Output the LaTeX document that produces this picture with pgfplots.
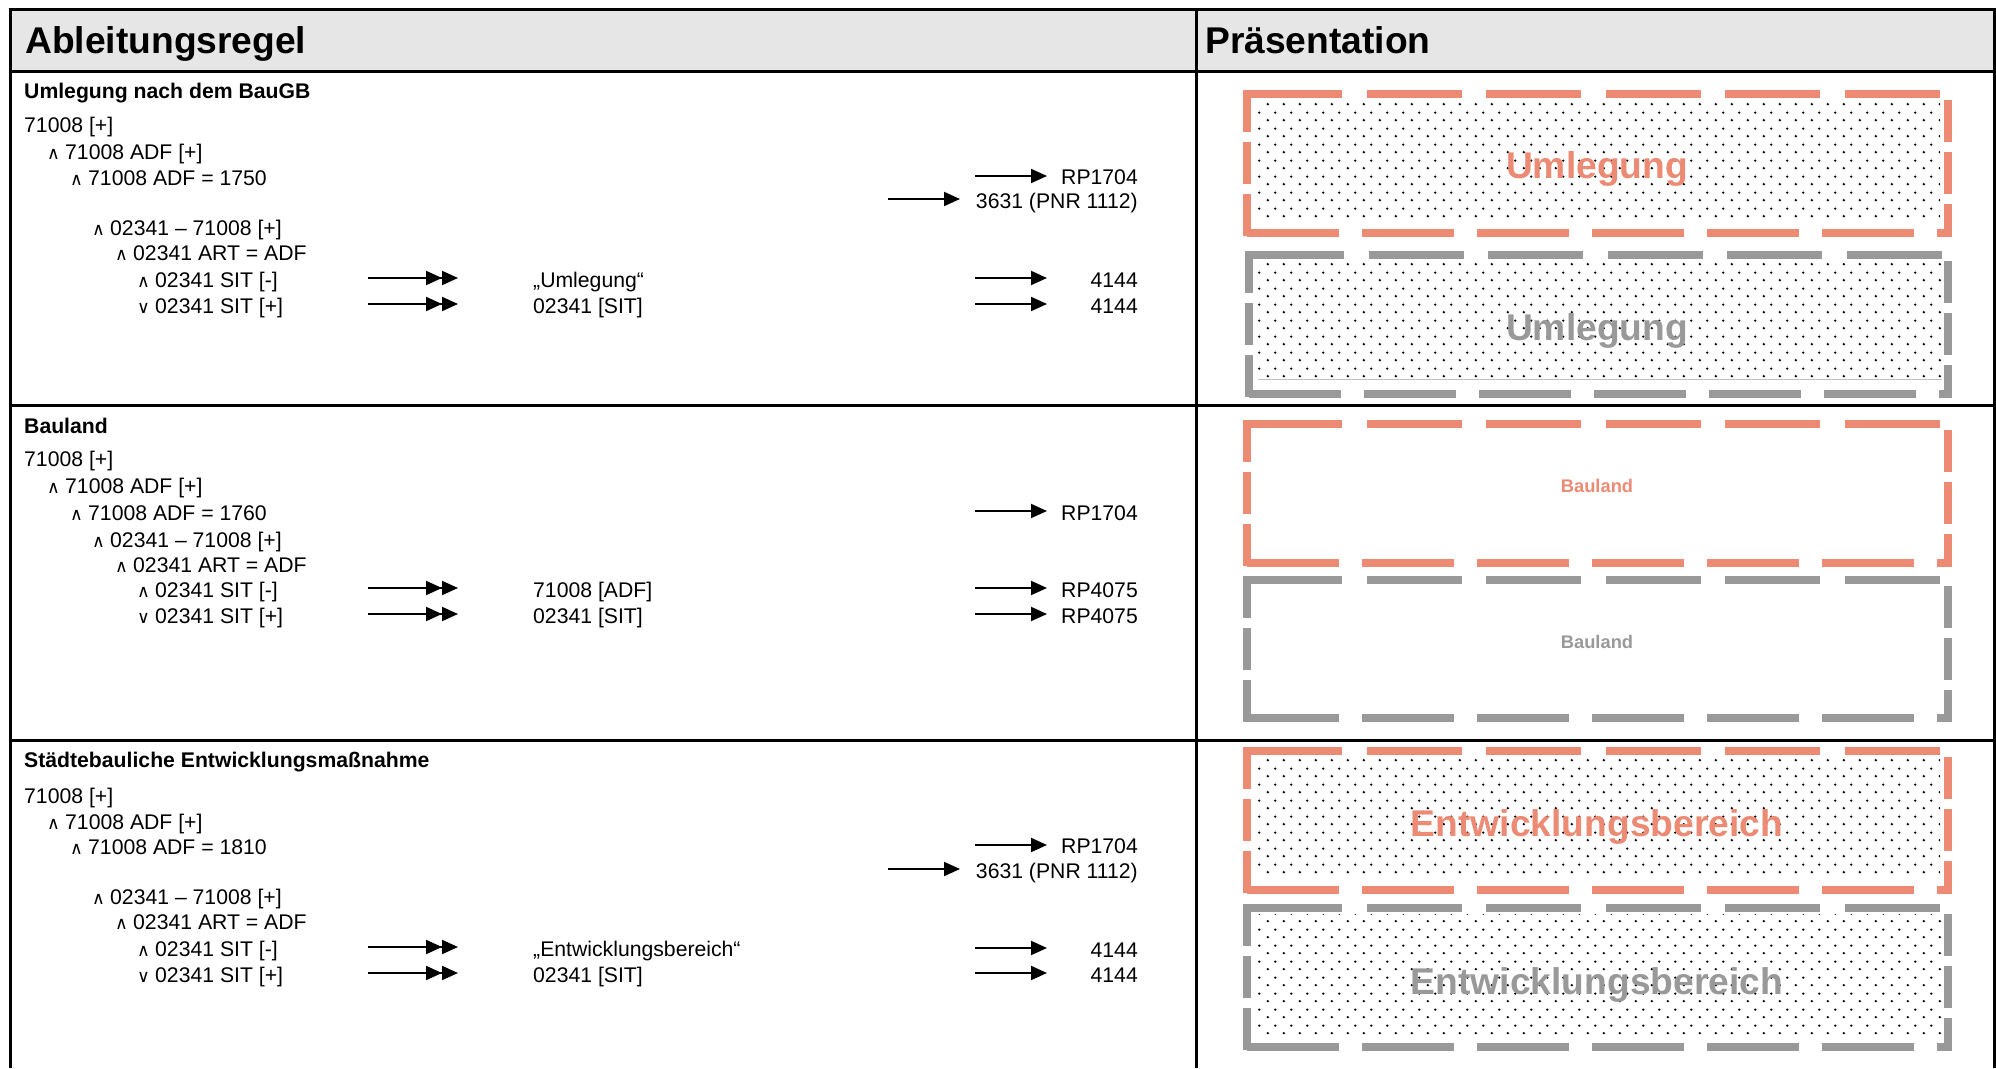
\documentclass[border=0pt]{standalone}
\usepackage{fontspec}
\setmainfont{Liberation Sans}
\newfontfamily\dv{DejaVu Sans}
\usepackage{pgfplots}
\pgfplotsset{compat=1.18}
\usetikzlibrary{arrows.meta,patterns}
\definecolor{org}{RGB}{236,138,116}
\definecolor{gry}{RGB}{153,153,153}
\definecolor{hdr}{RGB}{230,230,230}
\pgfdeclarepatternformonly{mydots}{\pgfpointorigin}{\pgfpoint{16pt}{16pt}}{\pgfpoint{16pt}{16pt}}{%
  \pgfpathcircle{\pgfpoint{4pt}{4pt}}{1.35pt}%
  \pgfpathcircle{\pgfpoint{12pt}{12pt}}{1.35pt}%
  \pgfusepath{fill}}
\newcommand{\body}{\fontsize{21.2pt}{25pt}\selectfont}
\newcommand{\bigf}{\fontsize{37.2pt}{40pt}\selectfont\bfseries}
\newcommand{\T}[3]{\node[anchor=base west,font=\body,inner sep=0pt] at (axis cs:#1,#2) {#3};}
\newcommand{\B}[3]{\node[anchor=base west,font=\body\bfseries,inner sep=0pt] at (axis cs:#1,#2) {#3};}
\newcommand{\W}[4]{\node[anchor=base west,font=\body,inner sep=0pt] at (axis cs:#1,#2) {\makebox[18pt][l]{\dv\fontsize{17.5pt}{17.5pt}\selectfont #3}#4};}
\newcommand{\R}[3]{\node[anchor=base east,font=\body,inner sep=0pt] at (axis cs:#1,#2) {#3};}
\newcommand{\SA}[3]{\addplot[black,line width=2pt,-{Triangle[length=16pt,width=14pt]}] coordinates {(#1,#3) (#2,#3)};}
\newcommand{\DA}[1]{\addplot[black,line width=2pt,-{Triangle[length=16pt,width=14pt]Triangle[length=16pt,width=14pt]}] coordinates {(368,#1) (458,#1)};}
% dashed box: color x1 y1 x2 y2
\newcommand{\DB}[5]{%
  \addplot[#1,line width=8pt,dash pattern=on 95pt off 24.5pt] coordinates {(#2,#3) (#4,#3)};
  \addplot[#1,line width=8pt,dash pattern=on 92pt off 23pt] coordinates {(#2,#5) (#4,#5)};
  \addplot[#1,line width=8pt,dash pattern=on 42pt off 10pt,shorten <=-4pt,shorten >=-4pt] coordinates {(#2,#3) (#2,#5)};
  \addplot[#1,line width=8pt,dash pattern=on 42pt off 10pt,dash phase=42pt,shorten <=-4pt,shorten >=-4pt] coordinates {(#4,#3) (#4,#5)};
}
\newcommand{\DOTS}[4]{\addplot[draw=none,pattern=mydots,pattern color=black] coordinates {(#1,#2) (#3,#2) (#3,#4) (#1,#4) (#1,#2)};}
\begin{document}
\begin{tikzpicture}
\begin{axis}[name=ax,width=1996pt,height=1068pt,scale only axis,
  xmin=0,xmax=1996,ymin=0,ymax=1068,y dir=reverse,hide axis,clip=false]
% header fill
\addplot[draw=none,fill=hdr] coordinates {(10,9) (1994,9) (1994,71) (10,71) (10,9)};
% table lines
\addplot[black,line width=3pt] coordinates {(8.5,9) (1995.5,9)};
\addplot[black,line width=3pt] coordinates {(10,71) (1994,71)};
\addplot[black,line width=3pt] coordinates {(10,405) (1994,405)};
\addplot[black,line width=3pt] coordinates {(10,740) (1994,740)};
\addplot[black,line width=3pt] coordinates {(10,9) (10,1068)};
\addplot[black,line width=3pt] coordinates {(1196,9) (1196,1068)};
\addplot[black,line width=3pt] coordinates {(1994,9) (1994,1068)};
% headers
\node[anchor=base west,font=\bigf,inner sep=0pt] at (axis cs:25,53) {Ableitungsregel};
\node[anchor=base west,font=\bigf,inner sep=0pt] at (axis cs:1205,53) {Präsentation};
% ---- Row 1
\B{24}{98}{Umlegung nach dem BauGB}
\T{24}{132}{71008 [+]}
\W{47}{159}{∧}{71008 ADF [+]}
\W{70}{185}{∧}{71008 ADF = 1750}
\W{92}{235}{∧}{02341 – 71008 [+]}
\W{115}{260}{∧}{02341 ART = ADF}
\W{137}{287}{∧}{02341 SIT [-]}
\W{137}{313}{∨}{02341 SIT [+]}
\DA{278}
\DA{304}
\T{533}{287}{„Umlegung“}
\T{533}{313}{02341 [SIT]}
\SA{975}{1047}{176}
\R{1138}{184}{RP1704}
\SA{888}{960}{199}
\R{1138}{208}{3631 (PNR 1112)}
\SA{975}{1047}{278}
\R{1138}{287}{4144}
\SA{975}{1047}{304}
\R{1138}{313}{4144}
% ---- Row 2
\B{24}{433}{Bauland}
\T{24}{466}{71008 [+]}
\W{47}{493}{∧}{71008 ADF [+]}
\W{70}{520}{∧}{71008 ADF = 1760}
\W{92}{547}{∧}{02341 – 71008 [+]}
\W{115}{572}{∧}{02341 ART = ADF}
\W{137}{597}{∧}{02341 SIT [-]}
\W{137}{623}{∨}{02341 SIT [+]}
\DA{588}
\DA{614}
\T{533}{597}{71008 [ADF]}
\T{533}{623}{02341 [SIT]}
\SA{975}{1047}{511}
\R{1138}{520}{RP1704}
\SA{975}{1047}{588}
\R{1138}{597}{RP4075}
\SA{975}{1047}{614}
\R{1138}{623}{RP4075}
% ---- Row 3
\B{24}{767}{Städtebauliche Entwicklungsmaßnahme}
\T{24}{803}{71008 [+]}
\W{47}{829}{∧}{71008 ADF [+]}
\W{70}{854}{∧}{71008 ADF = 1810}
\W{92}{904}{∧}{02341 – 71008 [+]}
\W{115}{929}{∧}{02341 ART = ADF}
\W{137}{956}{∧}{02341 SIT [-]}
\W{137}{982}{∨}{02341 SIT [+]}
\DA{947}
\DA{973}
\T{533}{956}{„Entwicklungsbereich“}
\T{533}{982}{02341 [SIT]}
\SA{975}{1047}{845}
\R{1138}{853}{RP1704}
\SA{888}{960}{869}
\R{1138}{878}{3631 (PNR 1112)}
\SA{975}{1047}{948}
\R{1138}{957}{4144}
\SA{975}{1047}{973}
\R{1138}{982}{4144}
% ---- Presentation
\DOTS{1256}{102}{1940}{222}
\DOTS{1258}{262}{1942}{378}
\addplot[gray!50,line width=1pt] coordinates {(1258,379) (1942,379)};
\DOTS{1256}{758}{1940}{876}
\DOTS{1256}{914}{1942}{1034}
\DB{org}{1247}{94}{1948}{233}
\DB{gry}{1249}{255}{1948}{394}
\DB{org}{1247}{424}{1948}{563}
\DB{gry}{1247}{580}{1948}{718}
\DB{org}{1247}{751}{1948}{890}
\DB{gry}{1247}{908}{1948}{1047}
\node[anchor=base,font=\bigf,text=org,inner sep=0pt] at (axis cs:1597,178) {Umlegung};
\node[anchor=base,font=\bigf,text=gry,inner sep=0pt] at (axis cs:1597,340) {Umlegung};
\node[anchor=base,font=\fontsize{18.3pt}{20pt}\selectfont\bfseries,text=org,inner sep=0pt] at (axis cs:1597,492) {Bauland};
\node[anchor=base,font=\fontsize{18.3pt}{20pt}\selectfont\bfseries,text=gry,inner sep=0pt] at (axis cs:1597,648) {Bauland};
\node[anchor=base,font=\bigf,text=org,inner sep=0pt] at (axis cs:1597,836) {Entwicklungsbereich};
\node[anchor=base,font=\bigf,text=gry,inner sep=0pt] at (axis cs:1597,994) {Entwicklungsbereich};
\end{axis}
\pgfresetboundingbox
\path (ax.south west) rectangle (ax.north east);
\end{tikzpicture}
\end{document}
